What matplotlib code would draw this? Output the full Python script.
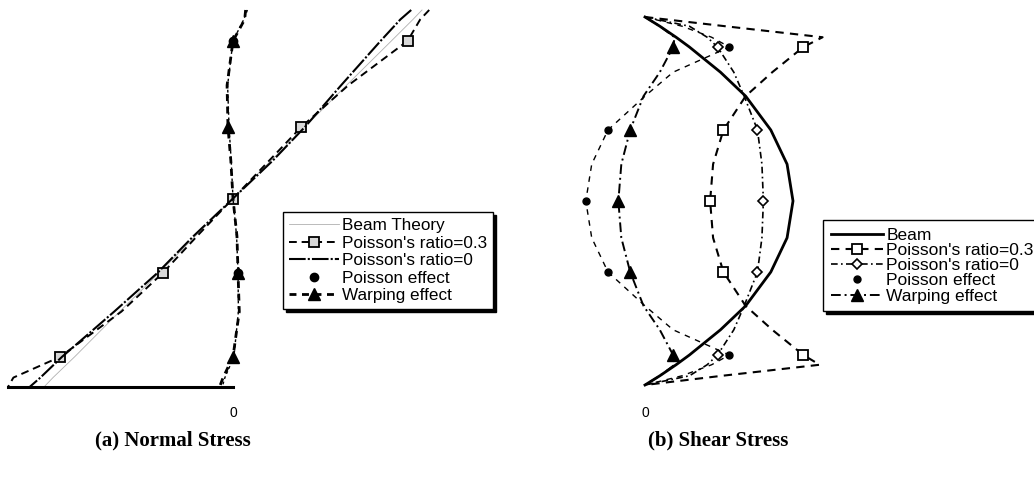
import numpy as np
from matplotlib import pyplot as plt

# depth through the section (top = 1, bottom = -1)
z_left = [1.0, 0.95, 0.836, 0.6, 0.38, 0.2, 0.0, -0.2, -0.395, -0.6, -0.84, -0.95, -1.0]
z_right = [1.0, 0.95, 0.89, 0.837, 0.7, 0.57, 0.386, 0.2, 0.0,
           -0.2, -0.386, -0.57, -0.7, -0.837, -0.89, -0.95, -1.0]

# (a) normal stress
beam_theory = [1.05, 1.0, 0.88, 0.63, 0.40, 0.21, 0.0, -0.21, -0.41, -0.63, -0.88, -1.0, -1.05]
poisson03_a = [1.09, 1.04, 0.97, 0.64, 0.38, 0.20, 0.0, -0.20, -0.39, -0.62, -0.96, -1.22, -1.25]
poisson0_a = [0.99, 0.93, 0.82, 0.60, 0.40, 0.22, 0.0, -0.22, -0.42, -0.66, -0.95, -1.07, -1.13]
poisson_eff_a = [0.08, 0.06, 0.0, -0.03, -0.022, -0.01, 0.0, 0.02, 0.028, 0.03, 0.005, -0.045, -0.06]
warping_a = [0.07, 0.065, 0.0, -0.033, -0.028, -0.012, 0.0, 0.022, 0.028, 0.035, 0.0, -0.055, -0.075]

# (b) shear stress
beam_b = [0, 0.10, 0.21, 0.30, 0.51, 0.68, 0.85, 0.96, 1.0, 0.96, 0.85, 0.68, 0.51, 0.30, 0.21, 0.10, 0]
poisson03_b = [0, 0.54, 1.20, 1.07, 0.86, 0.68, 0.53, 0.46, 0.44, 0.46, 0.53, 0.68, 0.86, 1.07, 1.18, 0.52, 0]
poisson0_b = [0, 0.30, 0.42, 0.49, 0.60, 0.67, 0.76, 0.79, 0.80, 0.79, 0.76, 0.67, 0.60, 0.49, 0.42, 0.30, 0]
poisson_eff_b = [0, 0.25, 0.45, 0.57, 0.19, 0.0, -0.25, -0.36, -0.40, -0.36, -0.25, 0.0, 0.19, 0.57, 0.45, 0.25, 0]
warping_b = [0, 0.10, 0.20, 0.19, 0.10, -0.01, -0.10, -0.16, -0.18, -0.16, -0.10, -0.01, 0.10, 0.19, 0.20, 0.10, 0]

labels_a = ["Beam Theory", "Poisson's ratio=0.3", "Poisson's ratio=0", "Poisson effect", "Warping effect"]
labels_b = ["Beam", "Poisson's ratio=0.3", "Poisson's ratio=0", "Poisson effect", "Warping effect"]

plt.rcParams['font.family'] = ['Liberation Sans', 'DejaVu Sans']

W, H = 1034, 490
fig = plt.figure(figsize=(W / 100, H / 100), dpi=100)

# ---- (a) normal stress ----
ax1 = fig.add_axes([0, 1 - 387 / H, 480 / W, 387 / H])
ax1.set_xlim(-233 / 180, 247 / 180)
ax1.set_ylim(-1, 198.5 / 188.5)

mk_a = [2, 4, 6, 8, 10]
l1, = ax1.plot(beam_theory, z_left, color='#b0b0b0', lw=0.6, label=labels_a[0])
l2, = ax1.plot(poisson03_a, z_left, color='k', lw=1.4, ls=(0, (4, 2.5)), marker='s',
               ms=7, mfc='#d8d8d8', mec='k', mew=1.3, markevery=mk_a, label=labels_a[1])
l3, = ax1.plot(poisson0_a, z_left, color='k', lw=1.5, ls=(0, (8, 1, 1, 1)), label=labels_a[2])
ax1.plot(poisson_eff_a, z_left, color='k', lw=1.0, ls=(0, (2, 2)))
l4, = ax1.plot(poisson_eff_a, z_left, ls='none', marker='o', ms=6, color='k',
               markevery=[2, 8], label=labels_a[3])
l5, = ax1.plot(warping_a, z_left, color='k', lw=2.0, ls=(0, (2.5, 2)), marker='^',
               ms=8, markevery=[2, 4, 8, 10], label=labels_a[4])
for ln in ax1.lines:
    ln.set_clip_on(False)

for s in ['top', 'right', 'left']:
    ax1.spines[s].set_visible(False)
ax1.spines['bottom'].set_bounds(-1.25, 0)
ax1.spines['bottom'].set_linewidth(2.2)
ax1.set_yticks([])
ax1.set_xticks([0])
ax1.tick_params(axis='x', length=0, pad=14, labelsize=10)

leg1 = ax1.legend(handles=[l1, l2, l3, l4, l5], loc='upper left',
                  bbox_to_anchor=(283 / W, 1 - 212 / H), bbox_transform=fig.transFigure,
                  fontsize=12.3, frameon=True, fancybox=False, edgecolor='k',
                  shadow={'color': 'k', 'alpha': 1}, borderaxespad=0, borderpad=0.35,
                  labelspacing=0.15, handlelength=2.9, handletextpad=0.2)
leg1.get_frame().set_linewidth(1.0)

# ---- (b) shear stress ----
ax2 = fig.add_axes([540 / W, 1 - 387 / H, 494 / W, 387 / H])
ax2.set_xlim(-105 / 148, 389 / 148)
ax2.set_ylim(-186 / 184, 201 / 184)

mk_b = [3, 6, 8, 10, 13]
r1, = ax2.plot(beam_b, z_right, color='k', lw=2.0, label=labels_b[0])
r2, = ax2.plot(poisson03_b, z_right, color='k', lw=1.5, ls=(0, (4, 3)), marker='s',
               ms=7, mfc='white', mec='k', mew=1.3, markevery=mk_b, label=labels_b[1])
r3, = ax2.plot(poisson0_b, z_right, color='k', lw=1.2, ls=(0, (4, 2, 1, 2)), marker='D',
               ms=5, mfc='white', mec='k', mew=1.2, markevery=mk_b, label=labels_b[2])
ax2.plot(poisson_eff_b, z_right, color='k', lw=1.0, ls=(0, (4, 4)))
r4, = ax2.plot(poisson_eff_b, z_right, ls='none', marker='o', ms=5, color='k',
               markevery=mk_b, label=labels_b[3])
r5, = ax2.plot(warping_b, z_right, color='k', lw=1.4, ls=(0, (5, 2, 1, 2)), marker='^',
               ms=8, markevery=mk_b, label=labels_b[4])
for ln in ax2.lines:
    ln.set_clip_on(False)

for s in ax2.spines.values():
    s.set_visible(False)
ax2.set_yticks([])
ax2.set_xticks([0])
ax2.tick_params(axis='x', length=0, pad=14, labelsize=10)

leg2 = ax2.legend(handles=[r1, r2, r3, r4, r5], loc='upper left',
                  bbox_to_anchor=(823 / W, 1 - 220 / H), bbox_transform=fig.transFigure,
                  fontsize=12.5, frameon=True, fancybox=False, edgecolor='k',
                  shadow={'color': 'k', 'alpha': 1}, borderaxespad=0, borderpad=0.45,
                  labelspacing=0.0, handlelength=3.0, handletextpad=0.2)
leg2.get_frame().set_linewidth(1.0)

# panel captions
fig.text(173 / W, 1 - 440 / H, "(a) Normal Stress", ha='center', va='center',
         family='Liberation Serif', weight='bold', fontsize=15)
fig.text(718 / W, 1 - 440 / H, "(b) Shear Stress", ha='center', va='center',
         family='Liberation Serif', weight='bold', fontsize=15)

fig.savefig('out.png', dpi=100)
